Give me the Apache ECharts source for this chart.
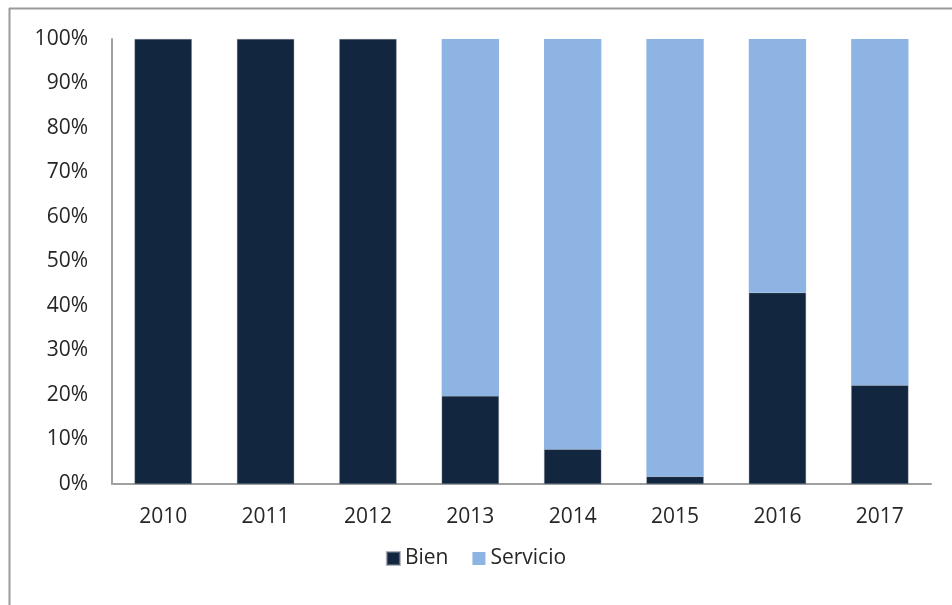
<!DOCTYPE html>
<html>
<head>
<meta charset="utf-8">
<script src="https://cdn.jsdelivr.net/npm/echarts@6/dist/echarts.min.js"></script>
<style>
  html, body { margin: 0; padding: 0; background: #fff; }
  #chart { width: 952px; height: 605px; }
</style>
</head>
<body>
<div id="chart"></div>
<script>
// Share of purchases by type, per year (percent)
const years = ['2010', '2011', '2012', '2013', '2014', '2015', '2016', '2017'];
const bien = [100, 100, 100, 19.8, 7.8, 1.7, 43.0, 22.2];
const servicio = [0, 0, 0, 80.2, 92.2, 98.3, 57.0, 77.8];
const yTicks = [0, 10, 20, 30, 40, 50, 60, 70, 80, 90, 100];

const font = '"Open Sans", "Noto Sans", sans-serif';
const chart = echarts.init(document.getElementById('chart'));

chart.setOption({
  animation: false,
  textStyle: { fontFamily: font },
  grid: { left: 112, right: 21, top: 39, bottom: 121, containLabel: false },
  graphic: [
    { type: 'line', shape: { x1: 9.5, y1: 8, x2: 9.5, y2: 605 }, style: { stroke: '#9a9a9a', lineWidth: 2 } },
    { type: 'line', shape: { x1: 9, y1: 8.5, x2: 952, y2: 8.5 }, style: { stroke: '#9a9a9a', lineWidth: 2 } }
  ],
  legend: {
    top: 543,
    left: 'center',
    itemWidth: 13,
    itemHeight: 13,
    itemGap: 24,
    icon: 'rect',
    textStyle: { fontFamily: font, fontSize: 21, color: '#262626' },
    data: ['Bien', 'Servicio']
  },
  xAxis: {
    type: 'category',
    data: years,
    axisLine: { lineStyle: { color: '#a0a0a0', width: 2 } },
    axisTick: { show: false },
    axisLabel: { fontFamily: font, fontSize: 21, color: '#262626', margin: 23 }
  },
  yAxis: {
    type: 'value',
    min: 0,
    max: 100,
    interval: 10,
    axisLine: { show: true, lineStyle: { color: '#a0a0a0', width: 2 } },
    axisTick: { show: false },
    splitLine: { show: false },
    axisLabel: {
      fontFamily: font, fontSize: 21, color: '#262626', margin: 24,
      formatter: v => (yTicks.includes(v) ? v + '%' : '')
    }
  },
  series: [
    {
      name: 'Bien', type: 'bar', stack: 'total', barWidth: '56%', data: bien,
      itemStyle: { color: '#12263f', borderColor: 'rgba(120,130,140,0.6)', borderWidth: 0.6 }
    },
    {
      name: 'Servicio', type: 'bar', stack: 'total', barWidth: '56%', data: servicio,
      itemStyle: { color: '#8eb4e3' }
    }
  ]
});
</script>
</body>
</html>
